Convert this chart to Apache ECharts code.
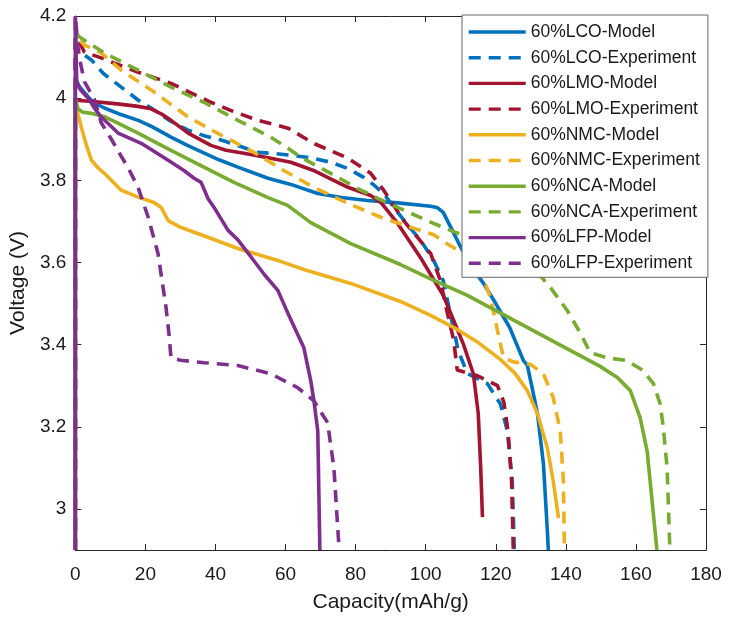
<!DOCTYPE html>
<html><head><meta charset="utf-8">
<script src="https://cdn.jsdelivr.net/npm/echarts@6/dist/echarts.min.js"></script>
<style>html,body{margin:0;padding:0;background:#fff}#c{width:730px;height:619px}</style>
</head><body><div id="c"></div><script>
// ---- data (capacity mAh/g, voltage V) ----
const lcoModel = [[0,2.9],[0,4.05],[1,4.03],[3,4.01],[5,3.99],[8.3,3.976],[13,3.96],[18,3.946],[22,3.93],[27.3,3.905],[32,3.885],[36.8,3.866],[41,3.85],[46.4,3.832],[55,3.805],[61.5,3.79],[69.2,3.768],[76,3.758],[83.4,3.751],[92,3.745],[101.4,3.737],[103.4,3.733],[105,3.722],[107.5,3.68],[110,3.637],[113,3.59],[116.5,3.549],[120,3.5],[124,3.441],[127.9,3.361],[129,3.35],[130.5,3.29],[131.9,3.232],[133.6,3.11],[134.7,2.95],[135,2.9]];
const lcoExp = [[0,2.9],[0,4.13],[1.7,4.11],[4.6,4.093],[8,4.06],[13.1,4.027],[18,3.995],[22.5,3.971],[27,3.945],[32.2,3.922],[37,3.908],[41.6,3.898],[47,3.883],[52,3.868],[57,3.865],[61.5,3.861],[67,3.855],[72.9,3.844],[78,3.828],[82.3,3.807],[85,3.79],[88,3.768],[92,3.722],[95,3.69],[98.5,3.654],[102,3.61],[105,3.556],[107,3.476],[109.3,3.385],[111.9,3.33],[117.6,3.305],[121.3,3.256],[123.3,3.19],[124.7,3.068],[125.3,2.9]];
const lmoModel = [[0,2.9],[0,3.995],[5,3.992],[12,3.986],[17.9,3.98],[21.6,3.974],[24.5,3.962],[27.3,3.946],[32.2,3.915],[38.7,3.885],[43,3.873],[48.1,3.866],[55,3.855],[61.5,3.844],[68,3.824],[73,3.803],[77.8,3.783],[84.3,3.763],[87.2,3.746],[92,3.695],[98.5,3.612],[105,3.52],[108,3.459],[110.8,3.4],[113.6,3.329],[115,3.232],[115.7,3.1],[116.2,2.98]];
const lmoExp = [[0,2.9],[0,4.15],[0.9,4.14],[2.6,4.112],[7.4,4.098],[10.3,4.088],[18,4.063],[27.3,4.036],[33,4.013],[38.7,3.99],[45,3.968],[52.1,3.946],[60.7,3.927],[68,3.89],[77.8,3.854],[84.3,3.817],[88,3.776],[93.7,3.702],[101.4,3.622],[104.2,3.556],[106.2,3.476],[108,3.41],[109,3.338],[114.8,3.324],[120.5,3.3],[122.3,3.26],[123.5,3.19],[124.5,3.07],[125,2.9]];
const nmcModel = [[0,2.9],[0,3.98],[0.8,3.96],[1.7,3.93],[3,3.89],[4.6,3.849],[6.5,3.83],[8.3,3.817],[13.1,3.776],[17.9,3.759],[22.5,3.746],[24.5,3.734],[26.5,3.702],[30.2,3.685],[36.7,3.665],[46.4,3.634],[57.8,3.605],[65.2,3.583],[78.6,3.549],[92.8,3.505],[101.4,3.471],[109,3.437],[115,3.405],[121.3,3.364],[125.5,3.33],[129,3.288],[131.9,3.232],[134.7,3.149],[136.4,3.068],[137.9,2.978]];
const nmcExp = [[0,2.9],[0,4.15],[2.5,4.13],[7.4,4.11],[13.1,4.068],[22.5,4.015],[32.2,3.954],[41.6,3.91],[51,3.868],[59.5,3.824],[68,3.783],[77.8,3.744],[87.2,3.71],[96.6,3.683],[102.2,3.668],[106.2,3.645],[110.8,3.622],[113.5,3.6],[115.6,3.58],[118.5,3.515],[120.5,3.434],[122.2,3.368],[125,3.358],[129.9,3.352],[133.6,3.329],[136.4,3.271],[138.4,3.19],[139.3,3.068],[139.6,2.9]];
const ncaModel = [[0,2.9],[0,4.0],[0.7,3.975],[2,3.966],[4.6,3.963],[8.3,3.955],[12,3.94],[17.9,3.915],[27.3,3.873],[36,3.835],[45.3,3.795],[55,3.758],[60.6,3.739],[67.2,3.697],[78.6,3.646],[92.8,3.595],[101.4,3.56],[111.9,3.52],[130.7,3.434],[149.8,3.347],[154.7,3.32],[158.4,3.288],[161.2,3.222],[163.2,3.141],[166,2.9]];
const ncaExp = [[0,2.9],[0,4.16],[1,4.15],[2.6,4.141],[8.3,4.11],[17.9,4.068],[27.3,4.027],[36.7,3.99],[46.4,3.946],[55.8,3.905],[60.7,3.878],[64.4,3.856],[72.9,3.817],[80.6,3.78],[86.3,3.756],[92,3.734],[101.4,3.698],[108,3.675],[115,3.652],[122,3.63],[128,3.6],[132,3.575],[135.6,3.539],[140.4,3.483],[144,3.43],[147,3.38],[151.8,3.368],[157.5,3.361],[162,3.337],[165,3.305],[166.9,3.256],[167.8,3.2],[168.9,3.1],[169.7,2.9]];
const lfpModel = [[0,2.9],[0,4.2],[0.4,4.04],[1.5,4.02],[3.7,4.0],[5.5,3.975],[7.4,3.954],[12.2,3.915],[18.8,3.89],[26.5,3.849],[31,3.824],[33.9,3.805],[35.9,3.795],[37.9,3.755],[39.6,3.734],[43.6,3.678],[46.4,3.655],[50.1,3.614],[54,3.57],[57.8,3.532],[61,3.47],[65.2,3.393],[67.2,3.312],[68.1,3.263],[69.2,3.19],[69.8,2.9]];
const lfpExp = [[0,2.9],[0,4.2],[0.8,4.12],[1.7,4.076],[2.6,4.04],[5.4,3.998],[7.4,3.94],[10.3,3.9],[13,3.86],[15.1,3.83],[17.9,3.783],[20.8,3.71],[23.6,3.622],[25.9,3.49],[26.8,3.42],[27.3,3.368],[30,3.362],[36.8,3.356],[46.4,3.349],[55.8,3.329],[63.5,3.295],[68.1,3.263],[72,3.21],[73.8,3.1],[75.3,2.9]];

const seriesNames = ['60%LCO-Model','60%LCO-Experiment','60%LMO-Model','60%LMO-Experiment','60%NMC-Model','60%NMC-Experiment','60%NCA-Model','60%NCA-Experiment','60%LFP-Model','60%LFP-Experiment'];
const seriesData = [lcoModel, lcoExp, lmoModel, lmoExp, nmcModel, nmcExp, ncaModel, ncaExp, lfpModel, lfpExp];
const colors = ['#0072BD','#0072BD','#A2142F','#A2142F','#EDB120','#EDB120','#77AC30','#77AC30','#7E2F8E','#7E2F8E'];
const xTicks = [0,20,40,60,80,100,120,140,160,180];
const yTicks = [3,3.2,3.4,3.6,3.8,4,4.2];

const FONT = "'Liberation Sans', Arial, sans-serif";
const axisCol = '#262626';

const chart = echarts.init(document.getElementById('c'), null, {renderer: 'canvas'});
const series = seriesData.map((d, i) => ({
  name: seriesNames[i],
  type: 'line',
  data: d,
  symbol: 'none',
  showSymbol: false,
  smooth: false,
  animation: false,
  color: colors[i],
  lineStyle: {width: 3.6, color: colors[i], type: (i % 2 === 1) ? [12, 8] : 'solid'},
  xAxisIndex: 0, yAxisIndex: 0
}));

chart.setOption({
  backgroundColor: '#fff',
  animation: false,
  grid: {left: 74, right: 24, top: 16, bottom: 69, containLabel: false},
  legend: {
    orient: 'vertical',
    left: 462, top: 15,
    backgroundColor: '#fff',
    borderColor: '#666', borderWidth: 1, borderRadius: 0,
    padding: [8, 8, 5, 5],
    itemWidth: 57, itemHeight: 16, itemGap: 7.7,
    itemStyle: {color: 'rgba(0,0,0,0)', borderWidth: 0, opacity: 0},
    lineStyle: {width: 3.4},
    textStyle: {fontFamily: FONT, fontSize: 17.5, color: '#1a1a1a'},
    data: seriesNames,
    selectedMode: false
  },
  xAxis: [{
    type: 'value', min: 0, max: 180, interval: 20, position: 'bottom',
    name: 'Capacity(mAh/g)', nameLocation: 'middle', nameGap: 42,
    nameTextStyle: {fontFamily: FONT, fontSize: 21, color: '#1a1a1a'},
    axisLine: {show: true, onZero: false, lineStyle: {color: axisCol, width: 1}},
    axisTick: {show: true, inside: true, length: 6, lineStyle: {color: axisCol}},
    axisLabel: {fontFamily: FONT, fontSize: 19, color: '#1a1a1a', margin: 15},
    splitLine: {show: false}
  }, {
    type: 'value', min: 0, max: 180, interval: 20, position: 'top',
    axisLine: {show: true, onZero: false, lineStyle: {color: axisCol, width: 1}},
    axisTick: {show: true, inside: true, length: 6, lineStyle: {color: axisCol}},
    axisLabel: {show: false}, splitLine: {show: false}
  }],
  yAxis: [{
    type: 'value', min: 2.9, max: 4.2, position: 'left',
    name: 'Voltage (V)', nameLocation: 'middle', nameGap: 43, nameRotate: 90,
    nameTextStyle: {fontFamily: FONT, fontSize: 21, color: '#1a1a1a'},
    axisLine: {show: true, onZero: false, lineStyle: {color: axisCol, width: 1}},
    axisTick: {show: true, inside: true, length: 6, customValues: yTicks, lineStyle: {color: axisCol}},
    axisLabel: {fontFamily: FONT, fontSize: 19, color: '#1a1a1a', margin: 9, customValues: yTicks},
    splitLine: {show: false}
  }, {
    type: 'value', min: 2.9, max: 4.2, position: 'right',
    axisLine: {show: true, onZero: false, lineStyle: {color: axisCol, width: 1}},
    axisTick: {show: true, inside: true, length: 6, customValues: yTicks, lineStyle: {color: axisCol}},
    axisLabel: {show: false, customValues: yTicks}, splitLine: {show: false}
  }],
  series: series
});
</script></body></html>
